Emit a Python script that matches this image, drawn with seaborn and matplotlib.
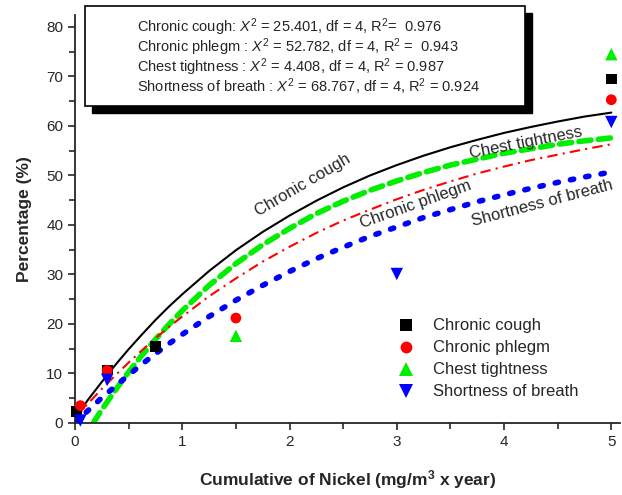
import numpy as np
import pandas as pd
import matplotlib
matplotlib.use('Agg')
import matplotlib.pyplot as plt
from matplotlib.patches import Rectangle
from matplotlib.lines import Line2D
from matplotlib.ticker import MultipleLocator
import seaborn as sns

# observed prevalence (points)
cough_x = [0.015, 0.3, 0.75, 5.0]
cough_y = [2.3, 10.7, 15.4, 69.5]
phlegm_x = [0.05, 0.3, 1.5, 5.0]
phlegm_y = [3.5, 10.6, 21.2, 65.3]
chest_x = [1.5, 5.0]
chest_y = [17.6, 74.5]
breath_x = [0.05, 0.3, 3.0, 5.0]
breath_y = [0.5, 8.7, 30.1, 60.8]

# fitted curves
curve_x = [0, 0.125, 0.25, 0.375, 0.5, 0.625, 0.75, 0.875, 1, 1.25, 1.5, 1.75, 2,
           2.25, 2.5, 2.75, 3, 3.25, 3.5, 3.75, 4, 4.25, 4.5, 4.75, 5]
cough_fit = [1.0, 4.8, 8.3, 11.7, 14.9, 17.9, 20.8, 23.5, 26.0, 30.7, 34.9, 38.6, 41.9,
             44.9, 47.6, 50.0, 52.1, 54.0, 55.7, 57.2, 58.6, 59.8, 60.9, 61.9, 62.7]
phlegm_fit = [1.0, 4.0, 6.9, 9.6, 12.2, 14.7, 17.1, 19.4, 21.5, 25.6, 29.2, 32.6, 35.6,
              38.4, 40.9, 43.1, 45.2, 47.1, 48.8, 50.4, 51.8, 53.1, 54.2, 55.3, 56.3]
breath_fit = [0.0, 2.6, 5.1, 7.4, 9.7, 11.9, 14.0, 16.0, 17.9, 21.5, 24.8, 27.8, 30.6,
              33.2, 35.5, 37.7, 39.6, 41.5, 43.1, 44.7, 46.1, 47.4, 48.6, 49.7, 50.7]
chest_fit_x = [0.17, 0.25, 0.375, 0.5, 0.625, 0.75, 0.875, 1, 1.25, 1.5, 1.75, 2,
               2.25, 2.5, 2.75, 3, 3.25, 3.5, 3.75, 4, 4.25, 4.5, 4.75, 5]
chest_fit = [0.0, 2.7, 6.6, 10.3, 13.7, 16.9, 19.9, 22.7, 27.8, 32.2, 36.0, 39.3,
             42.3, 44.8, 47.0, 48.9, 50.6, 52.1, 53.3, 54.5, 55.4, 56.3, 57.0, 57.6]

labels = ['Chronic cough', 'Chronic phlegm', 'Chest tightness', 'Shortness of breath']
colors = ['black', 'red', '#00ee00', 'blue']
markers = ['s', 'o', '^', 'v']

stats = ['Chronic cough: $X^2$ = 25.401, df = 4, R$^2$=  0.976',
         'Chronic phlegm : $X^2$ = 52.782, df = 4, R$^2$ =  0.943',
         'Chest tightness : $X^2$ = 4.408, df = 4, R$^2$ = 0.987',
         'Shortness of breath : $X^2$ = 68.767, df = 4, R$^2$ = 0.924']

sns.set_style('ticks')
plt.rcParams['font.family'] = ['Liberation Sans', 'DejaVu Sans']
plt.rcParams['mathtext.fontset'] = 'custom'
plt.rcParams['mathtext.rm'] = 'Liberation Sans'
plt.rcParams['mathtext.it'] = 'Liberation Sans:italic'
plt.rcParams['mathtext.bf'] = 'Liberation Sans:bold'

fig = plt.figure(figsize=(6.22, 4.95), dpi=100)
ax = fig.add_axes([0.1206, 0.1455, 0.876, 0.824])

sns.lineplot(x=curve_x, y=cough_fit, color='black', lw=1.5, ax=ax)
sns.lineplot(x=chest_fit_x, y=chest_fit, color='#00ee00', lw=4, ax=ax,
             linestyle=(0, (2.2, 1.3)))
sns.lineplot(x=curve_x, y=phlegm_fit, color='red', lw=1.5, ax=ax,
             linestyle=(0, (5, 2.5, 1, 2.5)))
sns.lineplot(x=curve_x, y=breath_fit, color='blue', lw=4, ax=ax,
             linestyle=(0, (0.6, 2.2)))
ax.lines[1].set_dash_capstyle('round')
ax.lines[3].set_dash_capstyle('round')

pts = [(cough_x, cough_y, 60), (phlegm_x, phlegm_y, 60), (chest_x, chest_y, 80), (breath_x, breath_y, 80)]
for (px, py, s), c, m in zip(pts, colors, markers):
    sns.scatterplot(x=px, y=py, marker=m, color=c, s=s, edgecolor='none',
                    clip_on=False, zorder=5, ax=ax, legend=False)

handles = [Line2D([], [], ls='none', marker=m, color=c, markersize=8.5 if m in 'so' else 9.5,
                  markeredgewidth=0) for c, m in zip(colors, markers)]
ax.legend(handles, labels, loc='center left', bbox_to_anchor=(0.565, 0.157), frameon=False,
          fontsize=12, handlelength=1.0, handletextpad=1.1, labelspacing=0.42)

ax.text(2.12, 48.0, 'Chronic cough', rotation=30.5, fontsize=12, ha='center', va='center')
ax.text(4.2, 56.6, 'Chest tightness', rotation=11, fontsize=12, ha='center', va='center')
ax.text(3.18, 44.2, 'Chronic phlegm', rotation=19.5, fontsize=12, ha='center', va='center')
ax.text(4.36, 44.4, 'Shortness of breath', rotation=14.7, fontsize=12, ha='center', va='center')

ax.set_xlim(0, 5.08)
ax.set_ylim(0, 82.4)
ax.xaxis.set_major_locator(MultipleLocator(1))
ax.xaxis.set_minor_locator(MultipleLocator(0.5))
ax.yaxis.set_major_locator(MultipleLocator(10))
ax.yaxis.set_minor_locator(MultipleLocator(5))
ax.tick_params(which='both', direction='out', width=1.2, labelsize=11)
ax.tick_params(which='major', length=5)
ax.tick_params(which='minor', length=4)
sns.despine(ax=ax)
for s in ['left', 'bottom']:
    ax.spines[s].set_linewidth(1.3)
ax.set_xlabel('Cumulative of Nickel (mg/m$^\\mathbf{3}$ x year)', fontsize=12.5, fontweight='bold', labelpad=14)
ax.set_ylabel('Percentage (%)', fontsize=12.5, fontweight='bold', labelpad=10)

# stats box with shadow
W, H = 622, 495
def fx(px):
    return px / W
def fy(py):
    return 1 - py / H
fig.patches.append(Rectangle((fx(92), fy(113)), fx(525) - fx(85), fy(6) - fy(106),
                             transform=fig.transFigure, facecolor='black', edgecolor='black', zorder=10))
fig.patches.append(Rectangle((fx(85), fy(106)), fx(525) - fx(85), fy(6) - fy(106),
                             transform=fig.transFigure, facecolor='white', edgecolor='black', lw=1.2, zorder=11))
for i, t in enumerate(stats):
    fig.text(fx(137), fy(26.7 + 20 * i), t, fontsize=10.5, ha='left', va='center', zorder=12)

fig.savefig('out.png', dpi=100)
